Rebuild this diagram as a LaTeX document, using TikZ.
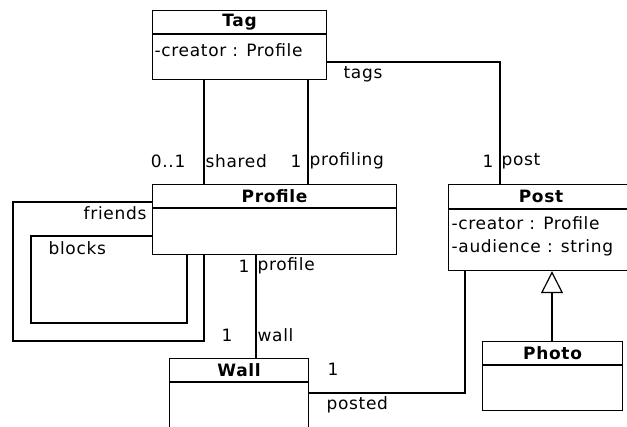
\documentclass[tikz,border=0pt]{standalone}
\usepackage{fontspec}
\setmainfont{DejaVu Sans}[LetterSpace=4]
\usetikzlibrary{calc,arrows.meta}
\begin{document}
\begin{tikzpicture}[x=1pt,y=-1pt,line width=1.2pt,
  cls/.style={draw,rectangle,anchor=north west,inner sep=0pt,line width=1.2pt},
  lbl/.style={inner sep=0pt,font=\fontsize{17}{19}\selectfont},
  ttl/.style={inner sep=0pt,font=\fontsize{17}{19}\selectfont\bfseries},
  gen/.style={-{Triangle[open,length=22pt,width=22pt]}}]
\useasboundingbox (0,0) rectangle (627,427);
\clip (0,0) rectangle (627,427);
% helper coordinates
\foreach \v in {13,31,187,204,256,308,465,500,552}{\coordinate (x\v) at (\v,0);}
\foreach \v in {62,202,236,292,323,341,393}{\coordinate (y\v) at (0,\v);}
% classes
\node[cls,minimum width=174pt,minimum height=69pt] (tag) at (152,10) {};
\node[cls,minimum width=244pt,minimum height=70pt] (profile) at (152,184) {};
\node[cls,minimum width=186pt,minimum height=86pt] (post) at (448,184) {};
\node[cls,minimum width=139pt,minimum height=80pt] (wall) at (169,358) {};
\node[cls,minimum width=140pt,minimum height=69pt] (photo) at (482,341) {};
% header separators
\draw ($(tag.north west)+(0,24)$) -- ($(tag.north east)+(0,24)$);
\draw ($(profile.north west)+(0,24)$) -- ($(profile.north east)+(0,24)$);
\draw ($(post.north west)+(0,25)$) -- ($(post.north east)+(0,25)$);
\draw ($(wall.north west)+(0,24)$) -- ($(wall.north east)+(0,24)$);
\draw ($(photo.north west)+(0,24)$) -- ($(photo.north east)+(0,24)$);
% titles
\node[ttl] (tagT) at ($(tag.north)+(0,12)$) {Tag};
\node[ttl] (profileT) at ($(profile.north)+(0,12)$) {Profile};
\node[ttl] (postT) at (541,196) {Post};
\node[ttl] (wallT) at ($(wall.north)+(0,12)$) {Wall};
\node[ttl] (photoT) at ($(photo.north)+(0,12)$) {Photo};
% attributes
\node[lbl,anchor=west] (tagA) at (154,50) {-creator : Profile};
\node[lbl,anchor=west] (postA1) at (451,223) {-creator : Profile};
\node[lbl,anchor=west] (postA2) at (451,248) {-audience : string};
% connectors
\draw (x204 |- tag.south) -- (x204 |- profile.north);
\draw (x308 |- tag.south) -- (x308 |- profile.north);
\draw (tag.east |- y62) -| (x500 |- post.north);
\draw (profile.west |- y202) -| (x13 |- y341) -| (x204 |- profile.south);
\draw (profile.west |- y236) -| (x31 |- y323) -| (x187 |- profile.south);
\draw (x256 |- profile.south) -- (x256 |- wall.north);
\draw (wall.east |- y393) -| (x465 |- post.south);
\draw[gen] (x552 |- photo.north) -- (x552 |- post.south);
% labels
\node[lbl,anchor=west] (lTags) at (343,74) {tags};
\node[lbl,anchor=east] (l01) at (186,161) {0..1};
\node[lbl,anchor=west] (lShared) at (205,161) {shared};
\node[lbl,anchor=east] (l1a) at (302,161) {1};
\node[lbl,anchor=west] (lProfiling) at (309,161) {profiling};
\node[lbl,anchor=east] (l1b) at (494,161) {1};
\node[lbl,anchor=west] (lPost) at (501,161) {post};
\node[lbl,anchor=east] (lFriends) at (147,213) {friends};
\node[lbl,anchor=west] (lBlocks) at (48,248) {blocks};
\node[lbl,anchor=east] (l1c) at (250,266) {1};
\node[lbl,anchor=west] (lProfile) at (257,266) {profile};
\node[lbl,anchor=east] (l1d) at (233,335) {1};
\node[lbl,anchor=west] (lWall) at (257,335) {wall};
\node[lbl,anchor=west] (l1e) at (327,369) {1};
\node[lbl,anchor=west] (lPosted) at (326,405) {posted};
\end{tikzpicture}
\end{document}
